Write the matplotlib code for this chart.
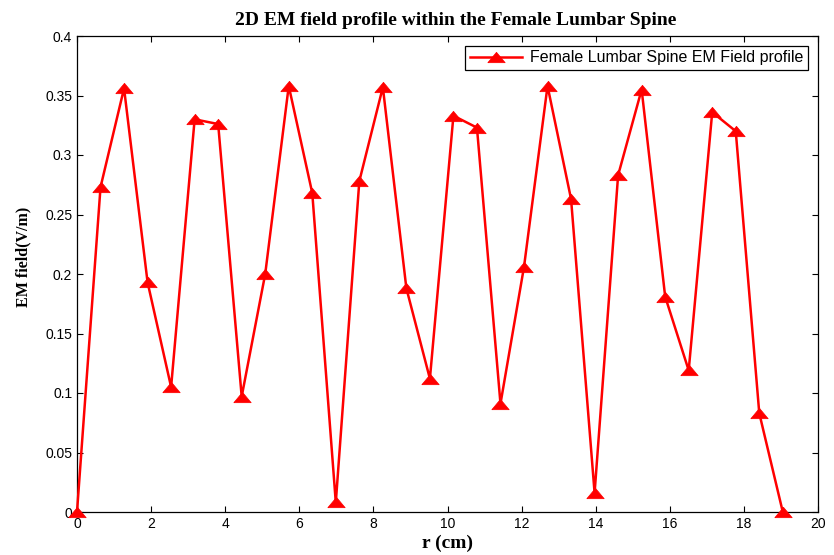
import matplotlib
matplotlib.use('Agg')
import matplotlib.pyplot as plt

# radial positions (cm) and EM field values (V/m)
r_cm = [0.0, 0.635, 1.27, 1.905, 2.54, 3.175, 3.81, 4.445, 5.08, 5.715,
        6.35, 6.985, 7.62, 8.255, 8.89, 9.525, 10.16, 10.795, 11.43, 12.065,
        12.7, 13.335, 13.97, 14.605, 15.24, 15.875, 16.51, 17.145, 17.78,
        18.415, 19.05]
em_field = [0.0, 0.273, 0.356, 0.193, 0.105, 0.330, 0.326, 0.097, 0.200, 0.358,
            0.268, 0.008, 0.278, 0.357, 0.188, 0.112, 0.333, 0.323, 0.091, 0.206,
            0.358, 0.263, 0.016, 0.283, 0.355, 0.181, 0.119, 0.336, 0.320,
            0.083, 0.0]

x_ticks = [0, 2, 4, 6, 8, 10, 12, 14, 16, 18, 20]
y_ticks = [0, 0.05, 0.1, 0.15, 0.2, 0.25, 0.3, 0.35, 0.4]
y_ticklabels = ['0', '0.05', '0.1', '0.15', '0.2', '0.25', '0.3', '0.35', '0.4']

# flattened triangle, like the stretched MATLAB '^' marker in the reference
tri = [(-1, -0.6), (1, -0.6), (0, 0.6), (-1, -0.6)]

fig = plt.figure(figsize=(8.34, 5.55), dpi=100)
ax = fig.add_axes([77 / 834, 1 - 512 / 555, (818 - 77) / 834, (512 - 36) / 555])

ax.plot(r_cm, em_field, color='#ff0000', lw=1.8, marker=tri, markersize=12.5,
        markerfacecolor='#ff0000', markeredgecolor='#ff0000', markeredgewidth=0.5,
        label='Female Lumbar Spine EM Field profile', clip_on=False, zorder=3)

ax.set_xlim(0, 20)
ax.set_ylim(0, 0.4)
ax.set_xticks(x_ticks)
ax.set_yticks(y_ticks)
ax.set_yticklabels(y_ticklabels)
ax.tick_params(direction='in', top=True, right=True, length=4, width=0.8,
               labelsize=10)
for lbl in ax.get_xticklabels() + ax.get_yticklabels():
    lbl.set_fontfamily('Liberation Sans')
for spine in ax.spines.values():
    spine.set_linewidth(0.9)

serif = 'Liberation Serif'
ax.set_title('2D EM field profile within the Female Lumbar Spine',
             fontsize=14, fontweight='bold', family=serif, pad=8, x=0.511)
ax.set_xlabel('r (cm)', fontsize=14, fontweight='bold', family=serif, labelpad=3)
ax.set_ylabel('EM field(V/m)', fontsize=11.5, fontweight='bold', family=serif)
ax.yaxis.set_label_coords(-0.062, 0.536)

leg = ax.legend(loc='upper right', fancybox=False, shadow=False, framealpha=1,
                edgecolor='black', prop={'family': 'Liberation Sans', 'size': 11.5},
                handlelength=3.3, handletextpad=0.5, borderpad=0.3,
                borderaxespad=0.6)
leg.get_frame().set_linewidth(0.9)

fig.savefig('out.png', dpi=100, facecolor='white')
